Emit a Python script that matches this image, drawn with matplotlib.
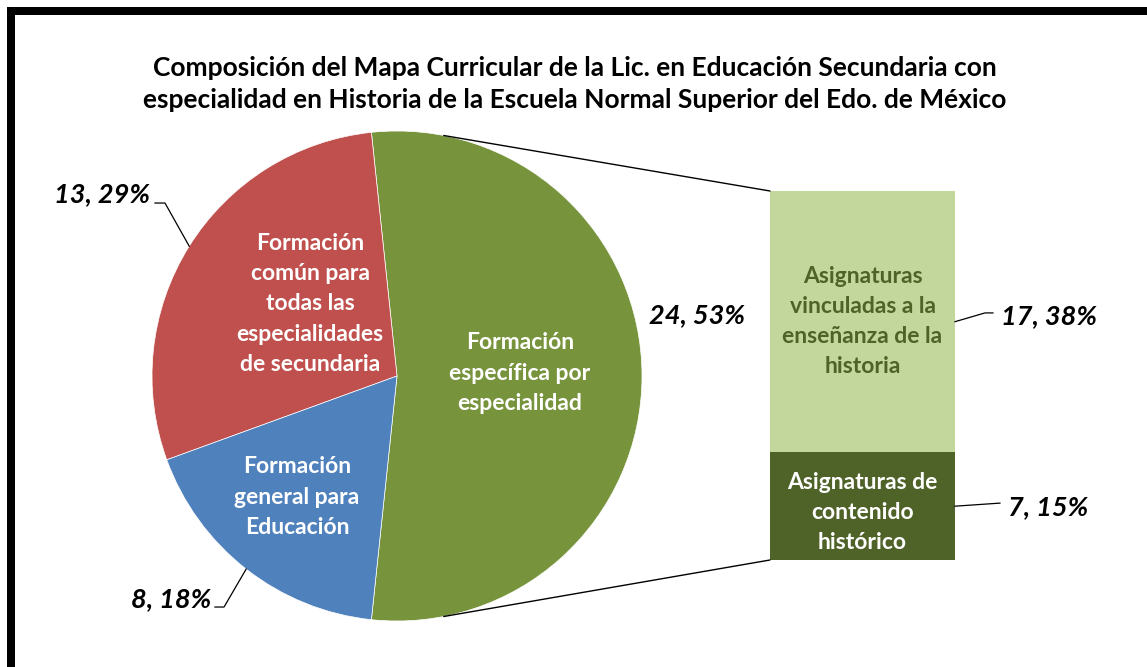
import numpy as np
import matplotlib
matplotlib.use('Agg')
import matplotlib.pyplot as plt
from matplotlib.patches import Rectangle, ConnectionPatch

plt.rcParams['font.family'] = ['Lato', 'DejaVu Sans']

# data
pie_labels = ['Formación\nespecífica por\nespecialidad',
              'Formación\ncomún para\ntodas las\nespecialidades\nde secundaria',
              'Formación\ngeneral para\nEducación']
pie_values = [24, 13, 8]
pie_pcts = [53, 29, 18]
pie_colors = ['#77933C', '#C0504D', '#4F81BD']

bar_labels = ['Asignaturas de\ncontenido\nhistórico',
              'Asignaturas\nvinculadas a la\nenseñanza de la\nhistoria']
bar_values = [7, 17]
bar_pcts = [15, 38]
bar_colors = ['#4F6228', '#C3D69B']
bar_text_colors = ['white', '#4F6228']

title = ('Composición del Mapa Curricular de la Lic. en Educación Secundaria con\n'
         'especialidad en Historia de la Escuela Normal Superior del Edo. de México')

W, H = 1147, 667
fig = plt.figure(figsize=(W / 100, H / 100), dpi=100)

# outer black frame
fig.patches.append(Rectangle((11 / W, -3.5 / H), 1.2, (H - 10.5 + 3.5) / H,
                             transform=fig.transFigure, fill=False,
                             edgecolor='black', linewidth=8 * 0.72))

fig.text(0.501, 1 - 84 / H, title, ha='center', va='center', fontsize=19,
         fontweight='bold', linespacing=1.42)

IN_FS = 16.5
OUT_FS = 19.5

# pie
cx, cy, r = 397, 376, 245
axp = fig.add_axes([(cx - r) / W, (H - cy - r) / H, 2 * r / W, 2 * r / H])
total = sum(pie_values)
start = -180 * pie_values[0] / total
wedges, _ = axp.pie(pie_values, colors=pie_colors, startangle=start,
                    radius=1, wedgeprops=dict(linewidth=0.5, edgecolor='white'))
axp.set_xlim(-1, 1)
axp.set_ylim(-1, 1)
axp.set_aspect('auto')
axp.axis('off')

in_pos = [(0.502, 0.012), (-0.355, 0.294), (-0.408, -0.494)]
for lab, (x, y) in zip(pie_labels, in_pos):
    axp.text(x, y, lab, ha='center', va='center', color='white',
             fontsize=IN_FS, fontweight='bold', linespacing=1.54)

out_txt = ['%d, %d%%' % (v, p) for v, p in zip(pie_values, pie_pcts)]
mids = [(w.theta1 + w.theta2) / 2 for w in wedges]
# green label, no leader
axp.text(1.03, 0.249, out_txt[0], ha='left', va='center', fontsize=OUT_FS,
         fontweight='bold', style='italic', clip_on=False)
# red and blue with leaders
leaders = [((-0.947, 0.706), (-0.988, 0.706), (-1.008, 0.743)),
           ((-0.706, -0.943), (-0.743, -0.943), (-0.759, -0.910))]
for i, (elb, hs, tp) in zip([1, 2], leaders):
    a = np.deg2rad(mids[i])
    axp.plot([np.cos(a), elb[0], hs[0]], [np.sin(a), elb[1], hs[1]],
             color='black', lw=0.9, clip_on=False)
    axp.text(tp[0], tp[1], out_txt[i], ha='right', va='center', fontsize=OUT_FS,
             fontweight='bold', style='italic', clip_on=False)

# stacked bar
bx0, bx1, by0, by1 = 770, 955, 191, 560
axb = fig.add_axes([bx0 / W, (H - by1) / H, (bx1 - bx0) / W, (by1 - by0) / H])
btot = sum(bar_values)
bottom = 0
text_shift = [-0.4, 0.0]
for v, c, lab, tc, sh in zip(bar_values, bar_colors, bar_labels,
                             bar_text_colors, text_shift):
    axb.bar(0, v, width=1, bottom=bottom, color=c, linewidth=0)
    axb.text(0, bottom + v / 2 + sh, lab, ha='center', va='center', color=tc,
             fontsize=IN_FS, fontweight='bold', linespacing=1.54)
    bottom += v
axb.set_xlim(-0.5, 0.5)
axb.set_ylim(0, btot)
axb.axis('off')

bar_txt = ['%d, %d%%' % (v, p) for v, p in zip(bar_values, bar_pcts)]
# 7, 15%
axb.plot([0.5, 0.743], [3.5, 3.7], color='black', lw=0.9, clip_on=False)
axb.text(0.786, 3.45, bar_txt[0], ha='left', va='center', fontsize=OUT_FS,
         fontweight='bold', style='italic', clip_on=False)
# 17, 38%
axb.plot([0.5, 0.662, 0.705], [7 + 17 / 2, 16.07, 16.07], color='black',
         lw=0.9, clip_on=False)
axb.text(0.75, 15.87, bar_txt[1], ha='left', va='center', fontsize=OUT_FS,
         fontweight='bold', style='italic', clip_on=False)

# connectors between pie and bar
for ang, yb in [(79, btot), (-79, 0)]:
    a = np.deg2rad(ang)
    con = ConnectionPatch(xyA=(np.cos(a), np.sin(a)), coordsA=axp.transData,
                          xyB=(-0.5, yb), coordsB=axb.transData,
                          color='black', lw=1.0)
    fig.add_artist(con)

fig.savefig('out.png', dpi=100)
